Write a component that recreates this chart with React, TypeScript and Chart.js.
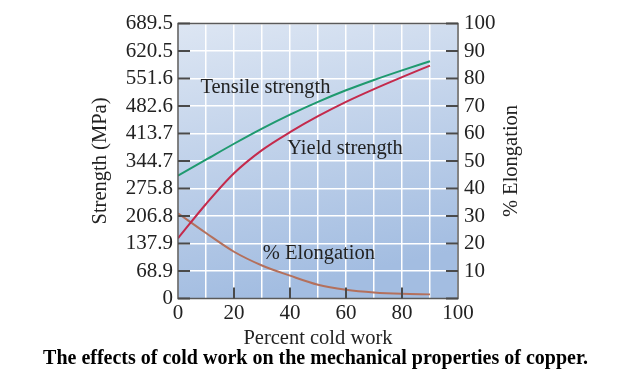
import React, { useEffect, useRef } from "react";
import { Chart, registerables } from "chart.js";

Chart.register(...registerables);

// ---- data ----
const coldWork = [0, 10, 20, 30, 40, 50, 60, 70, 80, 90];
const tensileStrength = [308, 348, 388, 426, 461, 493, 522, 548, 572, 595];
const yieldStrength = [151, 237, 314, 372, 417, 457, 493, 525, 555, 584];
const elongation = [31, 23.8, 17, 12, 8.3, 5, 3.2, 2.2, 1.7, 1.5];

const strengthTicks = [0, 68.9, 137.9, 206.8, 275.8, 344.7, 413.7, 482.6, 551.6, 620.5, 689.5];
const elongationTicks = [0, 10, 20, 30, 40, 50, 60, 70, 80, 90, 100];
const coldWorkTicks = [0, 10, 20, 30, 40, 50, 60, 70, 80, 90, 100];
const coldWorkLabels = [0, 20, 40, 60, 80, 100];

const curveLabels = [
  { text: "Tensile strength", x: 8, y: 528, axis: "y" },
  { text: "Yield strength", x: 39, y: 375, axis: "y" },
  { text: "% Elongation", x: 30.3, y: 16.2, axis: "y2" },
];

const SERIF = "'Liberation Serif', 'DejaVu Serif', serif";
const TEXT = "#222222";

const decorPlugin = {
  id: "decor",
  beforeDraw(chart: any) {
    const { ctx, chartArea: a } = chart;
    ctx.save();
    const g = ctx.createLinearGradient(a.left, a.top, a.left + 60, a.bottom);
    g.addColorStop(0, "#dde6f3");
    g.addColorStop(1, "#a3bde1");
    ctx.fillStyle = g;
    ctx.fillRect(a.left, a.top, a.right - a.left, a.bottom - a.top);
    ctx.restore();
  },
  afterDatasetsDraw(chart: any) {
    const { ctx, chartArea: a, scales } = chart;
    const xs = scales.x;
    const ys = scales.y;
    const y2 = scales.y2;
    ctx.save();
    // border
    ctx.strokeStyle = "#5a5a5a";
    ctx.lineWidth = 1.5;
    ctx.strokeRect(a.left, a.top, a.right - a.left, a.bottom - a.top);
    // inward ticks
    ctx.strokeStyle = "#4a4a4a";
    ctx.lineWidth = 2;
    ctx.beginPath();
    ys.ticks.forEach((t: any) => {
      const p = ys.getPixelForValue(t.value);
      ctx.moveTo(a.left, p);
      ctx.lineTo(a.left + 12, p);
    });
    y2.ticks.forEach((t: any) => {
      const p = y2.getPixelForValue(t.value);
      ctx.moveTo(a.right - 12, p);
      ctx.lineTo(a.right, p);
    });
    xs.ticks.forEach((t: any) => {
      if (t.value % 20 === 0 && t.value > 0 && t.value < 100) {
        const p = xs.getPixelForValue(t.value);
        ctx.moveTo(p, a.bottom);
        ctx.lineTo(p, a.bottom - 11);
      }
    });
    ctx.stroke();
    // curve labels
    ctx.fillStyle = TEXT;
    ctx.font = `20.5px ${SERIF}`;
    ctx.textAlign = "left";
    ctx.textBaseline = "middle";
    curveLabels.forEach((l) => {
      const sc = scales[l.axis];
      ctx.fillText(l.text, xs.getPixelForValue(l.x), sc.getPixelForValue(l.y));
    });
    // right axis title (reads bottom to top)
    ctx.translate(512, (a.top + a.bottom) / 2);
    ctx.rotate(-Math.PI / 2);
    ctx.textAlign = "center";
    ctx.fillText("% Elongation", 0, 0);
    ctx.restore();
  },
};

export default function App() {
  const ref = useRef<HTMLCanvasElement | null>(null);

  useEffect(() => {
    if (!ref.current) return;
    const toPts = (ys: number[]) => coldWork.map((x, i) => ({ x, y: ys[i] }));
    const chart = new Chart(ref.current, {
      type: "line",
      data: {
        datasets: [
          {
            label: "Tensile strength",
            data: toPts(tensileStrength),
            borderColor: "#1f9a6f",
            borderWidth: 2,
            pointRadius: 0,
            cubicInterpolationMode: "monotone",
            yAxisID: "y",
          },
          {
            label: "Yield strength",
            data: toPts(yieldStrength),
            borderColor: "#c42a4c",
            borderWidth: 2,
            pointRadius: 0,
            cubicInterpolationMode: "monotone",
            yAxisID: "y",
          },
          {
            label: "% Elongation",
            data: toPts(elongation),
            borderColor: "#b4705c",
            borderWidth: 2,
            pointRadius: 0,
            cubicInterpolationMode: "monotone",
            yAxisID: "y2",
          },
        ],
      },
      options: {
        animation: false,
        responsive: false,
        layout: { padding: { top: 23.5, left: 0, right: 10, bottom: 0 } },
        plugins: {
          legend: { display: false },
          tooltip: { enabled: false },
          title: {
            display: true,
            position: "bottom",
            text: "The effects of cold work on the mechanical properties of copper.",
            color: "#000000",
            font: { family: SERIF, size: 20, weight: "bold", lineHeight: 1 },
            padding: { top: 0, bottom: 12.5 },
          },
        },
        scales: {
          x: {
            type: "linear",
            min: 0,
            max: 100,
            afterBuildTicks: (s: any) => {
              s.ticks = coldWorkTicks.map((value) => ({ value }));
            },
            afterFit: (s: any) => {
              s.height = 50;
            },
            ticks: {
              autoSkip: false,
              maxRotation: 0,
              padding: 2,
              color: TEXT,
              font: { family: SERIF, size: 21 },
              callback: (v: any) => (coldWorkLabels.includes(Number(v)) ? String(v) : ""),
            },
            grid: { color: "#ffffff", lineWidth: 1.5, drawTicks: false },
            border: { display: false },
            title: {
              display: true,
              text: "Percent cold work",
              color: TEXT,
              font: { family: SERIF, size: 20.5, lineHeight: 1 },
              padding: { top: 0, bottom: 0 },
            },
          },
          y: {
            type: "linear",
            position: "left",
            min: 0,
            max: 689.5,
            afterBuildTicks: (s: any) => {
              s.ticks = strengthTicks.map((value) => ({ value }));
            },
            afterFit: (s: any) => {
              s.width = 178;
            },
            ticks: {
              autoSkip: false,
              padding: 5,
              color: TEXT,
              font: { family: SERIF, size: 21 },
              callback: (v: any) => String(v),
            },
            grid: { display: false, drawTicks: false },
            border: { display: false },
            title: {
              display: true,
              text: "Strength (MPa)",
              color: TEXT,
              font: { family: SERIF, size: 20.5, lineHeight: 1 },
              padding: { top: 90, bottom: 0 },
            },
          },
          y2: {
            type: "linear",
            position: "right",
            min: 0,
            max: 100,
            afterBuildTicks: (s: any) => {
              s.ticks = elongationTicks.map((value) => ({ value }));
            },
            afterFit: (s: any) => {
              s.width = 173;
            },
            ticks: {
              autoSkip: false,
              padding: 6,
              color: TEXT,
              font: { family: SERIF, size: 21 },
              callback: (v: any) => (Number(v) === 0 ? "" : String(v)),
            },
            grid: { color: "#ffffff", lineWidth: 1.5, drawTicks: false },
            border: { display: false },
          },
        },
      },
      plugins: [decorPlugin],
    } as any);
    return () => chart.destroy();
  }, []);

  return (
    <div style={{ position: "absolute", left: 0, top: 0, width: 641, height: 381, background: "#ffffff" }}>
      <canvas ref={ref} width={641} height={381} style={{ display: "block" }} />
    </div>
  );
}
